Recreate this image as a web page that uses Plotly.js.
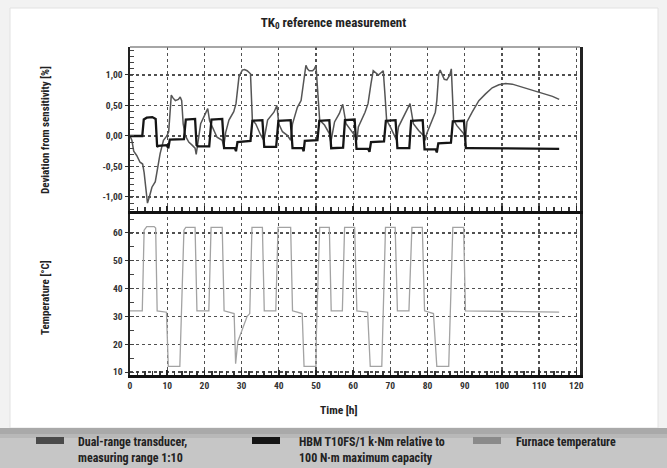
<!DOCTYPE html>
<html><head><meta charset="utf-8">
<script src="https://cdn.plot.ly/plotly-3.0.1.min.js"></script>
<style>html,body{margin:0;padding:0;background:#f2f2f2}#chart{width:667px;height:468px}</style>
</head><body><div id="chart"></div>
<script>
// ---- data ----
// large-excursion trace
const dualTime = [0,0.5,1.0,1.8,2.7,3.4,3.8,4.3,4.7,5.2,5.9,6.8,7.2,8.1,9.0,9.9,10.4,10.8,11.1,11.6,12.2,13.0,13.5,13.9,14.3,14.9,15.8,16.7,17.5,17.8,18.2,18.5,19.0,20.3,20.9,21.4,22.5,23.4,24.8,25.2,25.7,26.6,27.9,28.5,29.3,30.2,30.8,31.5,32.4,32.9,33.8,35.1,36.0,36.5,37.0,38.7,39.5,40.0,41.0,42.3,43.2,43.7,45.0,46.0,46.7,47.3,47.7,48.2,49.1,49.6,50.0,50.5,51.0,52.3,53.6,54.0,55.0,56.3,57.2,58.1,59.5,60.4,61.0,61.4,63.2,64.0,64.8,65.4,66.8,68.1,68.6,69.0,70.0,71.3,71.7,72.2,74.9,75.3,76.2,77.6,78.9,79.4,79.8,82.1,82.5,83.0,83.4,84.5,85.2,86.0,86.4,86.7,87.0,87.9,89.7,90.2,90.6,92.0,93.8,95.6,97.4,99.2,101.0,102.8,105.5,108.2,110.9,113.6,115.4];
const dualDev  = [0,-0.07,-0.25,-0.32,-0.43,-0.46,-0.6,-0.95,-1.1,-1.0,-0.84,-0.75,-0.62,-0.29,-0.07,0.0,0.07,0.45,0.67,0.62,0.58,0.6,0.64,0.58,0.2,0.0,-0.1,-0.15,-0.2,-0.3,-0.1,0.0,0.2,0.37,0.45,0.25,0.1,-0.02,-0.07,-0.18,0.05,0.26,0.4,0.53,0.97,1.08,1.09,1.07,1.02,0.26,0.2,0.02,-0.07,0.1,0.26,0.39,0.5,0.2,0.07,0.01,-0.07,0.2,0.47,0.58,0.86,1.16,1.1,1.07,1.07,1.1,1.16,0.75,0.26,0.18,0.04,-0.1,0.23,0.37,0.52,0.2,0.09,0.01,-0.07,0.15,0.39,0.53,0.86,1.07,1.0,1.07,0.64,0.26,0.15,0.0,-0.07,0.15,0.48,0.53,0.2,0.09,0.01,-0.07,0.04,0.39,0.58,1.02,1.08,0.93,0.92,1.0,1.1,0.6,0.26,0.17,0.04,-0.07,0.23,0.39,0.58,0.69,0.79,0.84,0.86,0.85,0.8,0.76,0.71,0.65,0.6];

// step-like trace
const hbmTime = [0,3.3,3.7,4.5,6.0,6.9,7.3,7.6,9.9,10.3,10.7,14.5,15.0,17.5,17.9,18.3,21.3,21.9,24.8,25.3,28.2,28.5,28.9,32.4,32.9,35.6,36.1,39.3,39.9,43.2,43.7,46.4,46.7,47.0,50.4,50.9,53.6,54.1,57.3,57.8,60.4,60.9,64.0,64.4,64.8,68.3,68.8,71.4,71.9,75.1,75.6,78.7,79.2,82.2,82.5,82.9,86.3,86.8,89.8,90.3,91.0,100.0,115.4];
const hbmDev  = [0,0,0.27,0.3,0.31,0.28,-0.18,-0.16,-0.15,-0.2,-0.06,-0.05,0.27,0.28,-0.15,-0.17,-0.17,0.27,0.28,-0.2,-0.2,-0.25,-0.1,-0.08,0.25,0.26,-0.18,-0.18,0.25,0.26,-0.2,-0.2,-0.25,-0.08,-0.07,0.25,0.26,-0.2,-0.19,0.26,0.27,-0.21,-0.21,-0.26,-0.1,-0.09,0.25,0.26,-0.2,-0.2,0.25,0.26,-0.22,-0.22,-0.27,-0.12,-0.11,0.24,0.25,-0.2,-0.2,-0.2,-0.21];

const furnaceTime = [0,3.3,3.8,4.5,6.5,6.9,7.3,9.8,10.3,13.4,14.5,15.0,17.5,18.0,21.2,21.8,24.8,25.3,28.0,28.4,29.0,31.5,32.2,32.8,35.6,36.1,39.2,39.8,43.2,43.7,46.3,46.8,50.0,50.1,51.0,53.6,54.1,57.1,57.7,60.4,61.0,63.9,64.6,67.7,68.7,71.3,71.9,75.0,75.8,78.6,79.2,81.6,82.5,85.7,86.8,89.7,90.2,100.0,115.4];
const furnaceTemp = [32,32,61,62.3,62.3,61.8,32,31.5,12,12,61,62,62,32,32,62,62,32,31,13,21,30,31,62,62,32,32,62,62,32,31,12,12,23,62,62,32,32,62,62,32,31.5,12,12,62,62,32,32,62,62,32,31,12,12,62,62,32,31.8,31.5];

const timeTicks = [0,10,20,30,40,50,60,70,80,90,100,110,120];
const devTicks = [-1,-0.5,0,0.5,1];
const devTickText = ['-1,00','-0,50','0,00','0,50','1,00'];
const tempTicks = [10,20,30,40,50,60];
const seriesNames = ['Dual-range transducer,<br>measuring range 1:10','HBM T10FS/1 k·Nm relative to<br>100 N·m maximum capacity','Furnace temperature'];
const seriesColors = ['#4a4a4a','#151515','#8a8a8a'];
const axisTitles = {x:'Time [h]', dev:'Deviation from sensitivity [%]', temp:'Temperature [°C]'};

// ---- layout helpers (pixel -> paper) ----
const W = 667, H = 468, M = {l:130, r:87, t:47, b:93};
const PW = W - M.l - M.r, PH = H - M.t - M.b;
const PX = p => (p - M.l) / PW;
const PY = p => (H - M.b - p) / PH;
const FONT = '"Liberation Sans Narrow", "Roboto Condensed", "Liberation Sans", Arial, sans-serif';

const traces = [
  {x: dualTime, y: dualDev, xaxis:'x2', yaxis:'y2', mode:'lines', name: seriesNames[0],
   line:{color: '#555555', width:1.5}, showlegend:false},
  {x: hbmTime, y: hbmDev, xaxis:'x2', yaxis:'y2', mode:'lines', name: seriesNames[1],
   line:{color: seriesColors[1], width:2.3}, showlegend:false},
  {x: furnaceTime, y: furnaceTemp, xaxis:'x', yaxis:'y', mode:'lines', name: seriesNames[2],
   line:{color: '#a3a3a3', width:1.3}, showlegend:false}
];

const gridCommon = {showgrid:true, gridcolor:'#505050', gridwidth:1.2, griddash:'dot', zeroline:false};
const tickFont = {family: FONT, size: 9.5, color:'#333', weight:'bold'};
const titleFont = {family:FONT, size:11, color:'#222', weight:'bold'};

const shapes = [
  {type:'rect', xref:'paper', yref:'paper', x0:PX(10), x1:PX(658), y0:PY(428), y1:PY(8),
   fillcolor:'#ffffff', line:{color:'#e2e2e2', width:1}, layer:'below'},
  {type:'rect', xref:'paper', yref:'paper', x0:PX(0), x1:PX(667), y0:PY(468), y1:PY(428),
   fillcolor:'#c6c6c6', line:{width:0}, layer:'below'},
  {type:'rect', xref:'paper', yref:'paper', x0:PX(0), x1:PX(667), y0:PY(434), y1:PY(428),
   fillcolor:'#a9a9a9', line:{width:0}, layer:'below'},
  {type:'rect', xref:'paper', yref:'paper', x0:PX(0), x1:PX(667), y0:PY(438), y1:PY(434),
   fillcolor:'#b8b8b8', line:{width:0}, layer:'below'},
  {type:'line', xref:'paper', yref:'paper', x0:0, x1:1, y0:1, y1:1, line:{color:'#888', width:1.5}}
];
const swatchX = [[36,64],[252,280],[473,501]];
const textX = [76, 297, 514];
const annotations = [
  {xref:'paper', yref:'paper', x:PX(339), y:PY(410), text:axisTitles.x, showarrow:false,
   font:Object.assign({}, titleFont, {size:11.5}), xanchor:'center', yanchor:'middle'},
  {xref:'paper', yref:'paper', x:PX(45), y:PY(130), text:axisTitles.dev, showarrow:false, textangle:-90,
   font:titleFont, xanchor:'center', yanchor:'middle'},
  {xref:'paper', yref:'paper', x:PX(45), y:PY(298), text:axisTitles.temp, showarrow:false, textangle:-90,
   font:titleFont, xanchor:'center', yanchor:'middle'}
];
for (let i = 0; i < 3; i++) {
  shapes.push({type:'rect', xref:'paper', yref:'paper', x0:PX(swatchX[i][0]), x1:PX(swatchX[i][1]),
    y0:PY(444), y1:PY(437), fillcolor: seriesColors[i], line:{width:0}});
  annotations.push({xref:'paper', yref:'paper', x:PX(textX[i]), y:PY(433), text: seriesNames[i],
    showarrow:false, xanchor:'left', yanchor:'top', align:'left',
    font:{family:FONT, size:12, color:'#222', weight:'bold'}});
}

const layout = {
  width: W, height: H,
  margin: M,
  paper_bgcolor:'#f2f2f2', plot_bgcolor:'#ffffff',
  font:{family: FONT, color:'#222'},
  separators: ',.',
  title:{text:'TK<sub>0</sub> reference measurement', x:0.5, xref:'container', y:1-22/H, yref:'container',
         xanchor:'center', yanchor:'middle', font:{family:FONT, size:13, color:'#222', weight:'bold'}},
  xaxis: Object.assign({}, gridCommon, {anchor:'y', domain:[0,1], range:[0,121],
    tickvals: timeTicks, ticktext: timeTicks.map(String), tickfont: tickFont,
    showline:true, linecolor:'#111', linewidth:3, ticks:'inside', ticklen:5, tickcolor:'#222', tickwidth:1.5,
    minor:{dtick:2, ticks:'inside', ticklen:4, tickcolor:'#333', tickwidth:1.5, showgrid:false}}),
  xaxis2: Object.assign({}, gridCommon, {anchor:'y2', matches:'x', domain:[0,1], range:[0,121],
    tickvals: timeTicks, ticktext: timeTicks.map(String), showticklabels:false,
    showline:true, linecolor:'#111', linewidth:3, ticks:'inside', ticklen:5, tickcolor:'#222', tickwidth:1.5,
    minor:{dtick:2, ticks:'inside', ticklen:4, tickcolor:'#333', tickwidth:1.5, showgrid:false}}),
  yaxis: Object.assign({}, gridCommon, {anchor:'x', domain:[0,0.5], range:[8.92,67.9],
    tickvals: tempTicks, ticktext: tempTicks.map(String), tickfont: tickFont,
    showline:true, mirror:true, linecolor:'#222', linewidth:2.5, ticks:'outside', ticklen:3, tickcolor:'#333',
    minor:{dtick:5, ticks:'inside', ticklen:4, tickcolor:'#444', showgrid:false}}),
  yaxis2: Object.assign({}, gridCommon, {anchor:'x2', domain:[0.5,1], range:[-1.23,1.459],
    tickvals: devTicks, ticktext: devTickText, tickfont: tickFont,
    showline:true, mirror:true, linecolor:'#222', linewidth:2.5, ticks:'outside', ticklen:3, tickcolor:'#333',
    minor:{dtick:0.1, ticks:'inside', ticklen:4, tickcolor:'#444', showgrid:false}}),
  shapes: shapes,
  annotations: annotations,
  showlegend:false
};

Plotly.newPlot('chart', traces, layout, {displayModeBar:false, staticPlot:true});
</script>
</body></html>
